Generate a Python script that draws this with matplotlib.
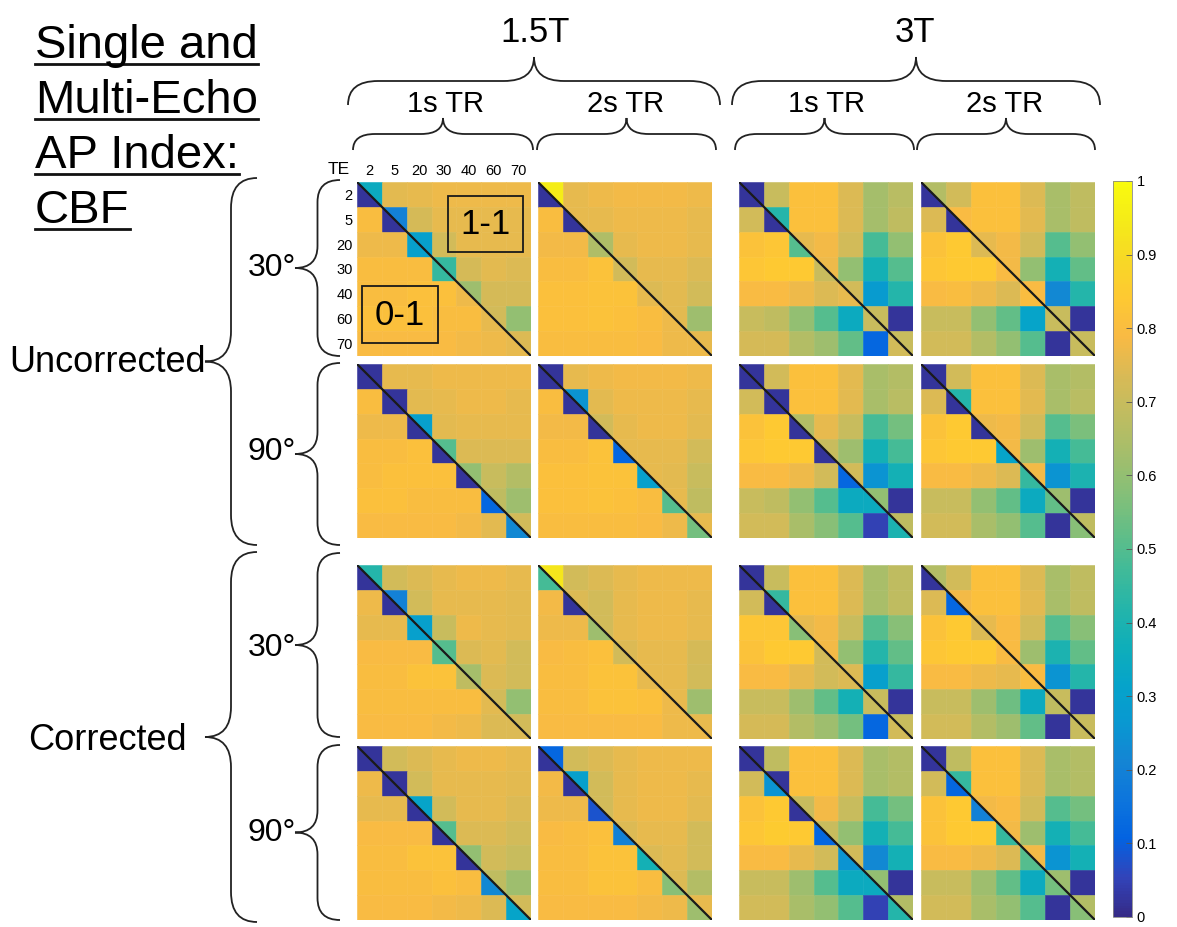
import numpy as np
import matplotlib.pyplot as plt
from matplotlib.collections import PolyCollection
from matplotlib.colors import LinearSegmentedColormap, Normalize
from matplotlib.path import Path
from matplotlib.patches import PathPatch, Rectangle
import matplotlib.cm as cm

plt.rcParams['font.family'] = ['Liberation Sans', 'DejaVu Sans']

te_labels = ['2', '5', '20', '30', '40', '60', '70']
field_labels = ['1.5T', '3T']
tr_labels = ['1s TR', '2s TR', '1s TR', '2s TR']
corr_labels = ['Uncorrected', 'Corrected']
angle_labels = ['30°', '90°', '30°', '90°']
cbar_ticks = [0, 0.1, 0.2, 0.3, 0.4, 0.5, 0.6, 0.7, 0.8, 0.9, 1]

# "1-1" (upper) triangles: row i holds TE columns i..6 (first value = diagonal half)
# "0-1" (lower) triangles: row i holds TE columns 0..i (last value = diagonal half)

# uncorrected 30 deg
up_u30_15_1 = [[0.35, 0.75, 0.76, 0.77, 0.77, 0.77, 0.77], [0.20, 0.73, 0.76, 0.76, 0.76, 0.76],
               [0.30, 0.72, 0.76, 0.76, 0.76], [0.45, 0.73, 0.75, 0.74], [0.62, 0.73, 0.73], [0.72, 0.60], [0.74]]
lo_u30_15_1 = [[0.02], [0.80, 0.02], [0.77, 0.77, 0.30], [0.80, 0.80, 0.80, 0.45], [0.80, 0.80, 0.81, 0.81, 0.77],
               [0.81, 0.81, 0.81, 0.80, 0.80, 0.76], [0.79, 0.79, 0.79, 0.79, 0.78, 0.77, 0.76]]
up_u30_15_2 = [[0.95, 0.76, 0.77, 0.78, 0.78, 0.78, 0.77], [0.76, 0.76, 0.77, 0.77, 0.77, 0.76],
               [0.65, 0.76, 0.77, 0.77, 0.76], [0.72, 0.76, 0.76, 0.74], [0.74, 0.75, 0.72], [0.75, 0.62], [0.76]]
lo_u30_15_2 = [[0.02], [0.80, 0.02], [0.78, 0.78, 0.65], [0.80, 0.80, 0.82, 0.72], [0.81, 0.81, 0.82, 0.82, 0.76],
               [0.81, 0.81, 0.82, 0.81, 0.80, 0.77], [0.80, 0.80, 0.80, 0.80, 0.79, 0.77, 0.77]]
up_u30_3_1 = [[0.02, 0.70, 0.81, 0.81, 0.74, 0.63, 0.67], [0.42, 0.81, 0.81, 0.74, 0.63, 0.68],
              [0.76, 0.78, 0.72, 0.48, 0.60], [0.77, 0.60, 0.38, 0.50], [0.72, 0.28, 0.42], [0.70, 0.02], [0.70]]
lo_u30_3_1 = [[0.02], [0.72, 0.02], [0.82, 0.83, 0.50], [0.83, 0.84, 0.84, 0.70], [0.79, 0.79, 0.77, 0.74, 0.76],
              [0.70, 0.68, 0.60, 0.50, 0.35, 0.70], [0.73, 0.73, 0.66, 0.62, 0.52, 0.12, 0.72]]
up_u30_3_2 = [[0.66, 0.72, 0.81, 0.81, 0.74, 0.64, 0.68], [0.79, 0.81, 0.81, 0.75, 0.64, 0.68],
              [0.76, 0.78, 0.72, 0.50, 0.60], [0.78, 0.60, 0.38, 0.52], [0.79, 0.22, 0.42], [0.70, 0.02], [0.70]]
lo_u30_3_2 = [[0.02], [0.74, 0.02], [0.82, 0.84, 0.74], [0.83, 0.84, 0.84, 0.79], [0.79, 0.80, 0.77, 0.74, 0.80],
              [0.70, 0.70, 0.60, 0.52, 0.32, 0.70], [0.72, 0.72, 0.66, 0.60, 0.50, 0.02, 0.70]]

# uncorrected 90 deg
up_u90_15_1 = [[0.02, 0.76, 0.76, 0.77, 0.77, 0.77, 0.77], [0.02, 0.75, 0.76, 0.77, 0.77, 0.76],
               [0.30, 0.75, 0.76, 0.76, 0.76], [0.50, 0.74, 0.74, 0.74], [0.60, 0.70, 0.66], [0.68, 0.62], [0.72]]
lo_u90_15_1 = [[0.02], [0.80, 0.02], [0.77, 0.77, 0.02], [0.80, 0.80, 0.81, 0.02], [0.80, 0.81, 0.81, 0.81, 0.02],
               [0.81, 0.81, 0.80, 0.80, 0.80, 0.12], [0.79, 0.79, 0.79, 0.79, 0.78, 0.75, 0.22]]
up_u90_15_2 = [[0.02, 0.76, 0.77, 0.78, 0.78, 0.78, 0.77], [0.25, 0.75, 0.77, 0.77, 0.77, 0.76],
               [0.72, 0.76, 0.77, 0.77, 0.75], [0.76, 0.76, 0.76, 0.72], [0.76, 0.75, 0.70], [0.76, 0.68], [0.76]]
lo_u90_15_2 = [[0.02], [0.80, 0.02], [0.78, 0.78, 0.02], [0.80, 0.80, 0.82, 0.12], [0.81, 0.81, 0.82, 0.82, 0.30],
               [0.81, 0.81, 0.82, 0.81, 0.80, 0.50], [0.80, 0.80, 0.80, 0.80, 0.79, 0.77, 0.55]]
up_u90_3_1 = [[0.02, 0.72, 0.81, 0.81, 0.75, 0.64, 0.66], [0.02, 0.81, 0.81, 0.75, 0.64, 0.67],
              [0.66, 0.76, 0.70, 0.48, 0.55], [0.70, 0.62, 0.38, 0.48], [0.72, 0.25, 0.38], [0.60, 0.02], [0.68]]
lo_u90_3_1 = [[0.02], [0.72, 0.02], [0.82, 0.84, 0.02], [0.83, 0.84, 0.84, 0.02], [0.79, 0.79, 0.77, 0.72, 0.12],
              [0.70, 0.68, 0.60, 0.50, 0.35, 0.35], [0.72, 0.72, 0.64, 0.58, 0.50, 0.05, 0.40]]
up_u90_3_2 = [[0.02, 0.72, 0.81, 0.81, 0.74, 0.64, 0.66], [0.42, 0.81, 0.81, 0.75, 0.64, 0.67],
              [0.77, 0.78, 0.72, 0.50, 0.56], [0.78, 0.62, 0.38, 0.48], [0.78, 0.25, 0.40], [0.62, 0.02], [0.68]]
lo_u90_3_2 = [[0.02], [0.74, 0.02], [0.82, 0.84, 0.02], [0.83, 0.84, 0.84, 0.32], [0.79, 0.79, 0.77, 0.74, 0.45],
              [0.70, 0.70, 0.60, 0.52, 0.35, 0.52], [0.72, 0.72, 0.64, 0.60, 0.50, 0.02, 0.58]]

# corrected 30 deg
up_c30_15_1 = [[0.42, 0.72, 0.74, 0.76, 0.77, 0.77, 0.76], [0.20, 0.72, 0.76, 0.76, 0.76, 0.75],
               [0.30, 0.70, 0.77, 0.76, 0.75], [0.50, 0.74, 0.75, 0.72], [0.63, 0.74, 0.72], [0.72, 0.60], [0.72]]
lo_c30_15_1 = [[0.02], [0.77, 0.02], [0.76, 0.76, 0.30], [0.79, 0.79, 0.79, 0.50], [0.80, 0.80, 0.82, 0.82, 0.68],
               [0.80, 0.80, 0.80, 0.80, 0.80, 0.75], [0.79, 0.79, 0.79, 0.78, 0.77, 0.74, 0.74]]
up_c30_15_2 = [[0.93, 0.72, 0.74, 0.76, 0.77, 0.77, 0.77], [0.74, 0.72, 0.76, 0.77, 0.77, 0.76],
               [0.72, 0.76, 0.77, 0.77, 0.76], [0.74, 0.76, 0.76, 0.73], [0.76, 0.76, 0.72], [0.76, 0.62], [0.76]]
lo_c30_15_2 = [[0.48], [0.78, 0.02], [0.77, 0.77, 0.62], [0.79, 0.80, 0.81, 0.72], [0.80, 0.80, 0.82, 0.82, 0.76],
               [0.80, 0.80, 0.82, 0.82, 0.81, 0.77], [0.79, 0.79, 0.79, 0.79, 0.79, 0.77, 0.77]]
up_c30_3_1 = [[0.02, 0.70, 0.81, 0.81, 0.74, 0.64, 0.68], [0.45, 0.81, 0.81, 0.74, 0.64, 0.68],
              [0.76, 0.78, 0.70, 0.50, 0.58], [0.78, 0.60, 0.42, 0.52], [0.74, 0.30, 0.45], [0.70, 0.02], [0.70]]
lo_c30_3_1 = [[0.02], [0.72, 0.02], [0.83, 0.83, 0.58], [0.82, 0.84, 0.84, 0.72], [0.79, 0.79, 0.76, 0.72, 0.74],
              [0.70, 0.70, 0.62, 0.52, 0.38, 0.70], [0.73, 0.73, 0.66, 0.62, 0.55, 0.12, 0.72]]
up_c30_3_2 = [[0.66, 0.72, 0.81, 0.81, 0.74, 0.64, 0.68], [0.78, 0.81, 0.81, 0.75, 0.64, 0.68],
              [0.76, 0.79, 0.72, 0.50, 0.58], [0.79, 0.62, 0.40, 0.52], [0.79, 0.25, 0.42], [0.70, 0.02], [0.70]]
lo_c30_3_2 = [[0.02], [0.74, 0.12], [0.82, 0.84, 0.74], [0.83, 0.84, 0.84, 0.79], [0.79, 0.79, 0.77, 0.76, 0.80],
              [0.70, 0.70, 0.62, 0.54, 0.35, 0.68], [0.72, 0.72, 0.66, 0.62, 0.52, 0.02, 0.70]]

# corrected 90 deg
up_c90_15_1 = [[0.02, 0.72, 0.74, 0.76, 0.77, 0.77, 0.76], [0.02, 0.72, 0.76, 0.76, 0.76, 0.75],
               [0.32, 0.72, 0.76, 0.76, 0.74], [0.50, 0.74, 0.74, 0.72], [0.60, 0.72, 0.70], [0.68, 0.62], [0.72]]
lo_c90_15_1 = [[0.02], [0.77, 0.02], [0.76, 0.76, 0.02], [0.79, 0.79, 0.79, 0.02], [0.80, 0.80, 0.82, 0.82, 0.02],
               [0.80, 0.80, 0.80, 0.81, 0.80, 0.22], [0.79, 0.79, 0.79, 0.78, 0.77, 0.74, 0.32]]
up_c90_15_2 = [[0.12, 0.72, 0.74, 0.76, 0.77, 0.77, 0.77], [0.30, 0.72, 0.76, 0.77, 0.77, 0.76],
               [0.72, 0.76, 0.77, 0.77, 0.75], [0.74, 0.76, 0.76, 0.72], [0.74, 0.75, 0.72], [0.74, 0.66], [0.76]]
lo_c90_15_2 = [[0.02], [0.78, 0.02], [0.77, 0.77, 0.08], [0.79, 0.80, 0.81, 0.20], [0.80, 0.80, 0.82, 0.82, 0.38],
               [0.80, 0.80, 0.82, 0.82, 0.80, 0.58], [0.79, 0.79, 0.79, 0.79, 0.78, 0.77, 0.62]]
up_c90_3_1 = [[0.02, 0.68, 0.81, 0.81, 0.74, 0.64, 0.66], [0.02, 0.81, 0.81, 0.74, 0.64, 0.66],
              [0.70, 0.78, 0.70, 0.48, 0.55], [0.70, 0.60, 0.38, 0.48], [0.72, 0.22, 0.38], [0.60, 0.02], [0.66]]
lo_c90_3_1 = [[0.02], [0.72, 0.25], [0.82, 0.84, 0.02], [0.83, 0.85, 0.84, 0.12], [0.79, 0.79, 0.76, 0.72, 0.25],
              [0.70, 0.70, 0.62, 0.50, 0.35, 0.35], [0.72, 0.72, 0.64, 0.60, 0.50, 0.05, 0.42]]
up_c90_3_2 = [[0.02, 0.68, 0.81, 0.81, 0.74, 0.64, 0.66], [0.45, 0.81, 0.81, 0.74, 0.64, 0.66],
              [0.78, 0.79, 0.72, 0.50, 0.55], [0.78, 0.62, 0.38, 0.48], [0.78, 0.25, 0.38], [0.62, 0.02], [0.66]]
lo_c90_3_2 = [[0.02], [0.72, 0.12], [0.82, 0.84, 0.20], [0.82, 0.84, 0.84, 0.45], [0.79, 0.79, 0.77, 0.74, 0.50],
              [0.70, 0.70, 0.62, 0.52, 0.35, 0.55], [0.72, 0.72, 0.64, 0.60, 0.50, 0.02, 0.58]]

upper_grid = [[up_u30_15_1, up_u30_15_2, up_u30_3_1, up_u30_3_2],
              [up_u90_15_1, up_u90_15_2, up_u90_3_1, up_u90_3_2],
              [up_c30_15_1, up_c30_15_2, up_c30_3_1, up_c30_3_2],
              [up_c90_15_1, up_c90_15_2, up_c90_3_1, up_c90_3_2]]
lower_grid = [[lo_u30_15_1, lo_u30_15_2, lo_u30_3_1, lo_u30_3_2],
              [lo_u90_15_1, lo_u90_15_2, lo_u90_3_1, lo_u90_3_2],
              [lo_c30_15_1, lo_c30_15_2, lo_c30_3_1, lo_c30_3_2],
              [lo_c90_15_1, lo_c90_15_2, lo_c90_3_1, lo_c90_3_2]]

# parula-like colormap (MATLAB default)
parula_pts = [[0.2081, 0.1663, 0.5292], [0.1959, 0.2645, 0.7279], [0.0117, 0.3875, 0.8820],
              [0.0498, 0.4586, 0.8641], [0.0793, 0.5200, 0.8312], [0.0343, 0.5966, 0.8199],
              [0.0231, 0.6418, 0.7913], [0.0590, 0.6838, 0.7254], [0.1453, 0.7098, 0.6646],
              [0.2586, 0.7317, 0.5954], [0.3953, 0.7459, 0.5244], [0.5300, 0.7491, 0.4661],
              [0.6473, 0.7456, 0.4188], [0.7525, 0.7384, 0.3768], [0.8507, 0.7299, 0.3360],
              [0.9739, 0.7314, 0.2666], [0.9955, 0.7861, 0.1967], [0.9698, 0.8481, 0.1475],
              [0.9598, 0.9218, 0.0948], [0.9763, 0.9831, 0.0538]]
parula = LinearSegmentedColormap.from_list('parula', parula_pts)
norm = Normalize(0, 1)

W, H = 1177, 927
fig = plt.figure(figsize=(W / 100, H / 100), dpi=100)


def fx(x):
    return x / W


def fy(y):
    return 1 - y / H


col_left = [357, 538, 739, 921]
row_top = [182, 364, 565, 746]
size = 174

for r in range(4):
    for c in range(4):
        ax = fig.add_axes([fx(col_left[c]), fy(row_top[r] + size), size / W, size / H])
        up = upper_grid[r][c]
        lo = lower_grid[r][c]
        polys, vals = [], []
        for i in range(7):
            for k, v in enumerate(up[i]):
                j = i + k
                if j == i:
                    polys.append([(j, i), (j + 1, i), (j + 1, i + 1)])
                else:
                    polys.append([(j, i), (j + 1, i), (j + 1, i + 1), (j, i + 1)])
                vals.append(v)
            for j, v in enumerate(lo[i]):
                if j == i:
                    polys.append([(j, i), (j, i + 1), (j + 1, i + 1)])
                else:
                    polys.append([(j, i), (j + 1, i), (j + 1, i + 1), (j, i + 1)])
                vals.append(v)
        pc = PolyCollection(polys, cmap=parula, norm=norm, edgecolors='face', linewidths=0.4)
        pc.set_array(np.array(vals))
        ax.add_collection(pc)
        ax.plot([0, 7], [0, 7], color='#1a1a1a', lw=1.6)
        ax.set_xlim(0, 7)
        ax.set_ylim(7, 0)
        for s in ax.spines.values():
            s.set_visible(False)
        if r == 0 and c == 0:
            ax.xaxis.tick_top()
            ax.set_xticks(np.arange(7) + 0.5)
            ax.set_xticklabels(te_labels, fontsize=10.5)
            ax.set_yticks(np.arange(7) + 0.5)
            ax.set_yticklabels(te_labels, fontsize=10.5)
            ax.tick_params(length=0, pad=3)
            ax.add_patch(Rectangle((3.66, 0.56), 3.02, 2.26, fill=False, ec='#1a1a1a', lw=1.3))
            ax.text(5.17, 1.72, '1-1', fontsize=25, ha='center', va='center')
            ax.add_patch(Rectangle((0.2, 4.18), 3.06, 2.3, fill=False, ec='#1a1a1a', lw=1.3))
            ax.text(1.73, 5.37, '0-1', fontsize=25, ha='center', va='center')
        else:
            ax.set_xticks([])
            ax.set_yticks([])

fig.text(fx(339), fy(170), 'TE', fontsize=12.5, ha='center', va='center')

# colorbar
cax = fig.add_axes([fx(1113), fy(917), 19 / W, 736 / H])
cb = fig.colorbar(cm.ScalarMappable(norm=norm, cmap=parula), cax=cax, ticks=cbar_ticks)
cb.ax.set_yticklabels([f'{t:g}' for t in cbar_ticks], fontsize=10.5)
cb.ax.tick_params(direction='in', length=4, width=0.6, color='#555555')
cb.outline.set_edgecolor('#888888')
cb.outline.set_linewidth(0.6)


def brace(a0, a1, b_end, b_tip, horizontal, r):
    bm = (b_end + b_tip) / 2
    am = (a0 + a1) / 2
    pts = [(a0, b_end), (a0, bm), (a0 + r, bm), (am - r, bm), (am, bm), (am, b_tip),
           (am, bm), (am + r, bm), (a1 - r, bm), (a1, bm), (a1, b_end)]
    codes = [Path.MOVETO, Path.CURVE3, Path.CURVE3, Path.LINETO, Path.CURVE3, Path.CURVE3,
             Path.CURVE3, Path.CURVE3, Path.LINETO, Path.CURVE3, Path.CURVE3]
    if horizontal:
        verts = [(fx(a), fy(b)) for a, b in pts]
    else:
        verts = [(fx(b), fy(a)) for a, b in pts]
    fig.add_artist(PathPatch(Path(verts, codes), transform=fig.transFigure,
                             fill=False, ec='#222222', lw=1.3))


# column braces
brace(348, 720, 105, 57, True, 30)
brace(732, 1100, 105, 57, True, 30)
for a0, a1 in [(353, 533), (537, 716), (735, 914), (917, 1095)]:
    brace(a0, a1, 150, 118, True, 22)

fig.text(fx(535), fy(32), field_labels[0], fontsize=25, ha='center', va='center')
fig.text(fx(915), fy(32), field_labels[1], fontsize=25, ha='center', va='center')
for x, lab in zip([445, 626, 826, 1005], tr_labels):
    fig.text(fx(x), fy(104), lab, fontsize=21, ha='center', va='center')

# row braces
brace(178, 545, 257, 205, False, 30)
brace(552, 922, 257, 205, False, 30)
for a0, a1 in [(180, 356), (363, 545), (553, 737), (745, 920)]:
    brace(a0, a1, 340, 295, False, 22)

fig.text(fx(206), fy(362), corr_labels[0], fontsize=26, ha='right', va='center')
fig.text(fx(187), fy(740), corr_labels[1], fontsize=26, ha='right', va='center')
for y, lab in zip([268, 452, 648, 833], angle_labels):
    fig.text(fx(296), fy(y), lab, fontsize=23, ha='right', va='center')

# underlined title
title_lines = ['Single and', 'Multi-Echo', 'AP Index:', 'CBF']
fig.canvas.draw()
renderer = fig.canvas.get_renderer()
for k, line in enumerate(title_lines):
    base = 58 + 55 * k
    t = fig.text(fx(35), fy(base), line, fontsize=34, ha='left', va='baseline')
    bb = t.get_window_extent(renderer)
    fig.add_artist(plt.Line2D([bb.x0 / W, bb.x1 / W], [fy(base + 6)] * 2,
                              transform=fig.transFigure, color='#111111', lw=2))

fig.savefig('out.png', dpi=100)
